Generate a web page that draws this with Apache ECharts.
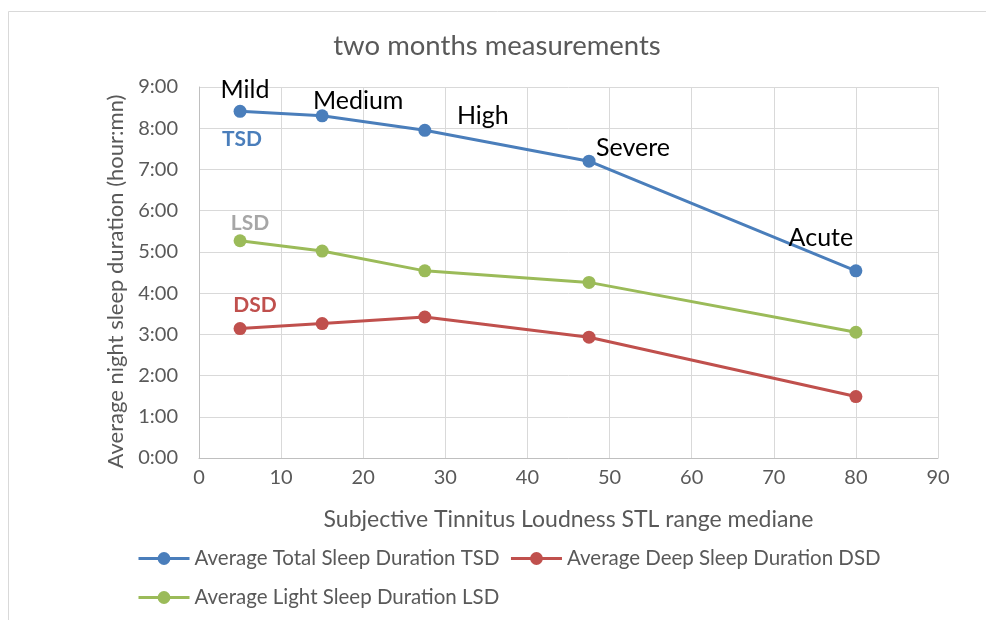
<!DOCTYPE html>
<html><head><meta charset="utf-8">
<script src="https://cdn.jsdelivr.net/npm/echarts@6/dist/echarts.min.js"></script>
<style>html,body{margin:0;padding:0;background:#fff}#c{width:986px;height:620px}</style>
</head><body><div id="c"></div>
<script>
const stl = [5, 15, 27.5, 47.5, 80];
const severity = ['Mild', 'Medium', 'High', 'Severe', 'Acute'];
const tsd = [8.41, 8.30, 7.95, 7.20, 4.54];
const lsd = [5.27, 5.02, 4.54, 4.26, 3.05];
const dsd = [3.14, 3.26, 3.42, 2.93, 1.49];
const yTicks = [0, 1, 2, 3, 4, 5, 6, 7, 8, 9];
const xTicks = [0, 10, 20, 30, 40, 50, 60, 70, 80, 90];

const FONT = 'Lato';
const sevOffsets = [[5, -21], [36, -15], [58, -14], [44, -13], [-35, -33]];
function pairs(vals) { return stl.map((x, i) => [x, vals[i]]); }
function hm(v) { const h = Math.floor(v + 1e-9); const m = Math.round((v - h) * 60); return h + ':' + String(m).padStart(2, '0'); }

const chart = echarts.init(document.getElementById('c'), null, {renderer: 'canvas'});
function tag(name, vals, color, off) {
  return {
    symbol: 'circle', symbolSize: 1, silent: true,
    itemStyle: {color: 'rgba(0,0,0,0)'},
    data: [{coord: [stl[0], vals[0]], value: name}],
    label: {show: true, position: 'inside', offset: off, formatter: name,
      fontFamily: FONT, fontSize: 21, fontWeight: 'bold', color: color}
  };
}
const common = {type: 'line', symbol: 'circle', symbolSize: 13, lineStyle: {width: 3}, z: 3};
const legendText = {fontFamily: FONT, fontSize: 20.5, color: '#595959'};
const legendBase = {padding: 0, itemWidth: 51, itemHeight: 16, itemGap: 10,
  lineStyle: {width: 3}, textStyle: legendText};
chart.setOption({
  animation: false,
  backgroundColor: '#fff',
  graphic: [{type: 'rect', shape: {x: 8.5, y: 11.5, width: 1000, height: 700},
    style: {fill: 'none', stroke: '#d9d9d9', lineWidth: 1}, z: -10, silent: true}],
  title: {text: 'two months measurements', left: 497, top: 32, textAlign: 'center', padding: 0,
    textStyle: {fontFamily: FONT, fontSize: 27.5, fontWeight: 'normal', color: '#595959'}},
  grid: {left: 199, right: 48, top: 87, bottom: 162, containLabel: false},
  legend: [
    Object.assign({}, legendBase, {data: ['Average Total Sleep Duration TSD', 'Average Deep Sleep Duration DSD'],
      left: 137, top: 548}),
    Object.assign({}, legendBase, {data: ['Average Light Sleep Duration LSD'], left: 137, top: 587})
  ],
  xAxis: {type: 'value', min: xTicks[0], max: xTicks[xTicks.length - 1], interval: 10,
    name: 'Subjective Tinnitus Loudness STL range mediane', nameLocation: 'middle', nameGap: 50,
    nameTextStyle: {fontFamily: FONT, fontSize: 23, color: '#595959'},
    axisLine: {show: true, lineStyle: {color: '#bfbfbf', width: 1}},
    axisTick: {show: false},
    axisLabel: {margin: 10, fontFamily: FONT, fontSize: 20, color: '#595959'},
    splitLine: {show: true, lineStyle: {color: '#d9d9d9', width: 1}}},
  yAxis: {type: 'value', min: yTicks[0], max: yTicks[yTicks.length - 1], interval: 1,
    name: 'Average night sleep duration (hour:mn)', nameLocation: 'middle', nameGap: 70,
    nameTextStyle: {fontFamily: FONT, fontSize: 22, color: '#595959', padding: [0, 18, 0, 0]},
    axisLine: {show: true, lineStyle: {color: '#bfbfbf', width: 1}},
    axisTick: {show: false},
    axisLabel: {margin: 21, fontFamily: FONT, fontSize: 20, color: '#595959', formatter: v => hm(v)},
    splitLine: {show: true, lineStyle: {color: '#d9d9d9', width: 1}}},
  series: [
    Object.assign({}, common, {name: 'Average Total Sleep Duration TSD', color: '#4a7ebb',
      data: stl.map((x, i) => ({value: [x, tsd[i]], label: {show: true, position: 'inside',
        formatter: severity[i], offset: sevOffsets[i], fontFamily: FONT, fontSize: 25, color: '#000'}})),
      markPoint: tag('TSD', tsd, '#4a7ebb', [2, 28])}),
    Object.assign({}, common, {name: 'Average Deep Sleep Duration DSD', color: '#c0504d', data: pairs(dsd),
      markPoint: tag('DSD', dsd, '#c0504d', [15, -23])}),
    Object.assign({}, common, {name: 'Average Light Sleep Duration LSD', color: '#9bbb59', data: pairs(lsd),
      markPoint: tag('LSD', lsd, '#a6a6a6', [10, -18])})
  ]
});
</script></body></html>
